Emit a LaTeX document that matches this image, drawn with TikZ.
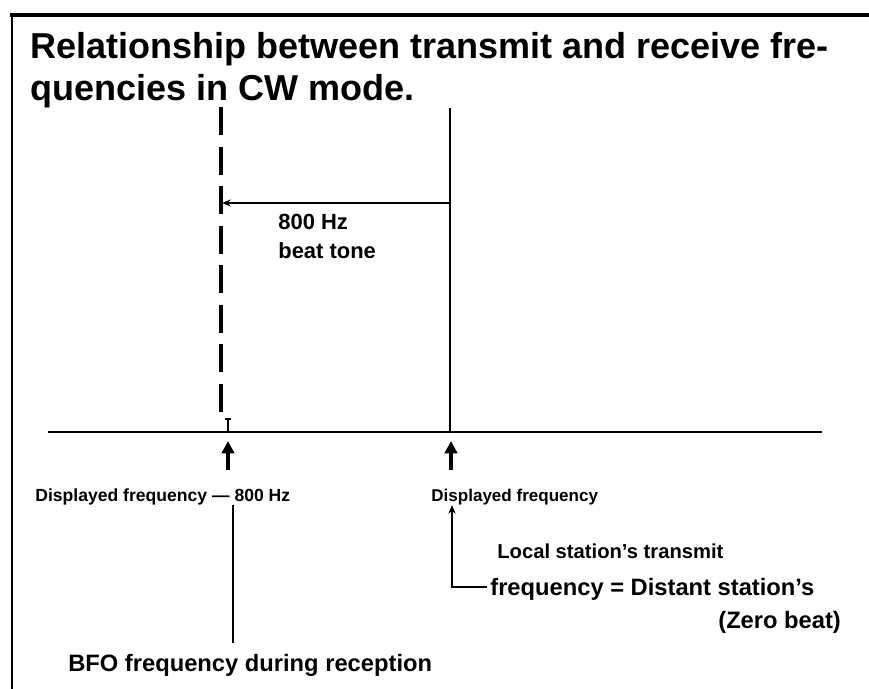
\documentclass[tikz,border=0pt]{standalone}
\usepackage{fontspec}
\setmainfont{Liberation Sans}
\usetikzlibrary{arrows.meta}

\tikzset{
  lbl/.style={anchor=base west, inner sep=0pt, font=\bfseries\fontsize{10}{12}\selectfont},
  upmark/.style={-{Triangle[width=7pt,length=7pt]}, line width=2.2pt},
  feed/.style={line width=1.7pt}
}

\begin{document}
\begin{tikzpicture}[x=0.02cm, y=-0.02cm]
  \useasboundingbox (0,0) rectangle (869,689);

  % frame
  \draw[line width=2.2pt] (10,15) -- (869,15);
  \draw[line width=1.2pt] (12,15) -- (12,689);

  \node[anchor=base west, inner sep=0pt, align=left,
        font=\bfseries\fontsize{20.5}{24.4}\selectfont] (title) at (30,101)
    {Relationship between transmit and receive fre-\\quencies in CW mode.};

  % frequency lines
  \coordinate (bfotop) at (221,107);
  \coordinate (bfoend) at (221,413);
  \coordinate (sigtop) at (450,108);
  \coordinate (sigend) at (450,432);
  \coordinate (tone) at (450,203);
  \coordinate (tonel) at (222,203);
  \draw[line width=2pt, dash pattern=on 16pt off 6.5pt] (bfotop) -- (bfoend);
  \draw[feed] (sigtop) -- (sigend);
  \draw[-{Stealth[length=5pt,width=4pt]}, line width=1.4pt] (tone) -- (tonel);
  \node[lbl, align=left, font=\bfseries\fontsize{12.5}{16}\selectfont] (beat) at (278,258) {800 Hz\\beat tone};

  % axis
  \coordinate (axl) at (48,432);
  \coordinate (axr) at (822,432);
  \draw[line width=1.5pt] (axl) -- (axr);
  \draw[line width=0.7pt] (228,419) -- (228,432);
  \draw[line width=0.7pt] (225,419) -- (231,419);

  % labels under the axis
  \node[lbl] (dispbfo) at (35,501) {Displayed frequency --- 800 Hz};
  \node[lbl, font=\bfseries\fontsize{9.7}{12}\selectfont] (disp) at (431,501) {Displayed frequency};
  \node[lbl, font=\bfseries\fontsize{13.5}{16}\selectfont] (bfo) at (68,671) {BFO frequency during reception};
  \node[lbl, font=\bfseries\fontsize{11.5}{14}\selectfont] (local) at (497,558) {Local station's transmit};
  \node[lbl, font=\bfseries\fontsize{13.5}{16}\selectfont] (distant) at (490,595) {frequency = Distant station's};
  \node[lbl, font=\bfseries\fontsize{13.5}{16}\selectfont] (zero) at (718,628) {(Zero beat)};

  \coordinate (up1) at (228,470);
  \coordinate (up2) at (451,470);
  \draw[upmark] (up1) -- (up1 |- 0,441);
  \draw[upmark] (up2) -- (up2 |- 0,441);

  \draw[feed] (bfo.north -| 233,0) ++(0,-10) -- (dispbfo.south -| 233,0);
  \coordinate (bend) at (452,587);
  \draw[feed, -{Stealth[length=5pt,width=4pt]}] (distant.west |- bend) ++(-3,0) -- (bend) -- (disp.south -| bend);
\end{tikzpicture}
\end{document}
